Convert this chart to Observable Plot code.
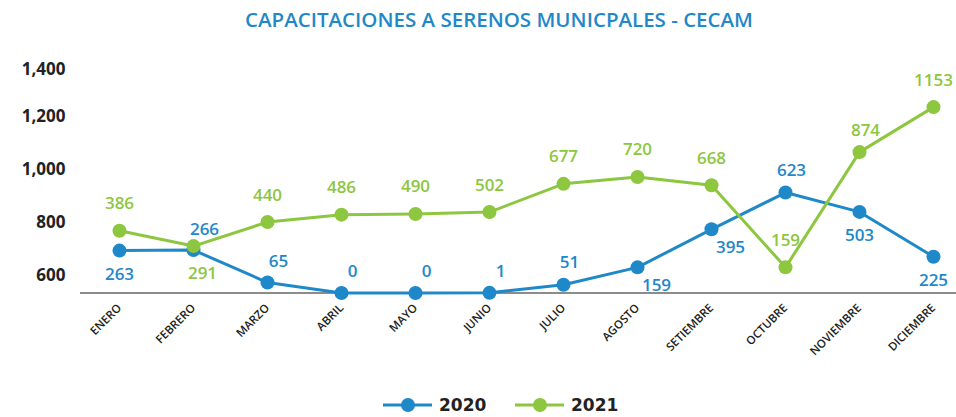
<!DOCTYPE html>
<html><head><meta charset="utf-8">
<script src="https://cdn.jsdelivr.net/npm/d3@7"></script>
<script src="https://cdn.jsdelivr.net/npm/@observablehq/plot@0.6"></script>
<style>
body{margin:0;background:#fff;font-family:"Open Sans",sans-serif;width:956px;height:417px;overflow:hidden;}
#title{height:36px;line-height:38px;text-align:center;padding-left:42px;color:#1f88c9;font-weight:600;font-size:20.5px;box-sizing:border-box;}
#chart svg{display:block;}
#legend svg{display:block;}
</style></head><body>
<div id="title">CAPACITACIONES A SERENOS MUNICPALES - CECAM</div>
<div id="chart"></div>
<div id="legend"></div>
<script>
const months = ["ENERO","FEBRERO","MARZO","ABRIL","MAYO","JUNIO","JULIO","AGOSTO","SETIEMBRE","OCTUBRE","NOVIEMBRE","DICIEMBRE"];
const values2020 = [263,266,65,0,0,1,51,159,395,623,503,225];
const values2021 = [386,291,440,486,490,502,677,720,668,159,874,1153];
const labelPlace2020 = ["S","NE","NE","NE","NE","NE","NNE","SE","SE","NNE","S","S"];
const labelPlace2021 = ["N","SSE","N","N","N","N","N","N","N","N","NNE","N"];
const seriesNames = ["2020","2021"];
const seriesColors = ["#1f88c9","#8dc63f"];
const yTickValues = [109,435,764,1093,1386];
const yTickLabels = ["600","800","1,000","1,200","1,400"];

const offsets = {N:[0,-27], NNE:[6,-22], NE:[11,-21], SE:[19,18], S:[0,24], SSE:[9,27]};
const rows = [];
seriesNames.forEach((s, si) => months.forEach((m, i) => rows.push({
  month: m, series: s,
  value: si ? values2021[i] : values2020[i],
  place: si ? labelPlace2021[i] : labelPlace2020[i]
})));

const seriesMarks = seriesNames.flatMap(s => {
  const d = rows.filter(r => r.series === s);
  return [
    Plot.line(d, {x: "month", y: "value", stroke: "series", strokeWidth: 3}),
    Plot.dot(d, {x: "month", y: "value", fill: "series", r: 7})
  ];
});
const labelMarks = seriesNames.flatMap(s => Object.entries(offsets).map(([code, [dx, dy]]) =>
  Plot.text(rows.filter(r => r.series === s && r.place === code), {
    x: "month", y: "value", text: d => String(d.value), fill: "series",
    dx, dy, fontSize: 17, fontWeight: 600
  })));

const chart = Plot.plot({
  width: 956, height: 340,
  marginLeft: 80, marginRight: 0, marginTop: 30.8, marginBottom: 83.5,
  x: {type: "point", domain: months, range: [118, 934], padding: 0},
  y: {domain: [0, 1400]},
  color: {domain: seriesNames, range: seriesColors},
  style: {fontFamily: "'Open Sans', sans-serif", background: "white", color: "#222"},
  marks: [
    Plot.ruleY([0], {stroke: "#666", strokeWidth: 1.3}),
    Plot.axisY({ticks: yTickValues, tickFormat: d => yTickLabels[yTickValues.indexOf(d)], tickSize: 0, tickPadding: 15, fontSize: 17, fontWeight: "bold", fill: "#222", label: null}),
    Plot.axisX({tickRotate: -45, tickSize: 0, tickPadding: 13, fontSize: 11.5, fontWeight: 600, fill: "#222", label: null}),
    ...seriesMarks,
    ...labelMarks
  ]
});
document.getElementById("chart").appendChild(chart);

// legend
const lg = d3.select("#legend").append("svg").attr("width", 956).attr("height", 41);
const items = [{x: 383}, {x: 515}];
seriesNames.forEach((s, i) => {
  const g = lg.append("g").attr("transform", `translate(${items[i].x},29)`);
  g.append("line").attr("x1", 0).attr("x2", 49).attr("stroke", seriesColors[i]).attr("stroke-width", 3);
  g.append("circle").attr("cx", 25).attr("r", 7).attr("fill", seriesColors[i]);
  g.append("text").attr("x", 56).attr("dy", "0.36em").attr("font-size", 17).attr("font-weight", "bold")
    .attr("fill", "#222").attr("font-family", "DejaVu Sans, sans-serif").text(s);
});
</script>
</body></html>
